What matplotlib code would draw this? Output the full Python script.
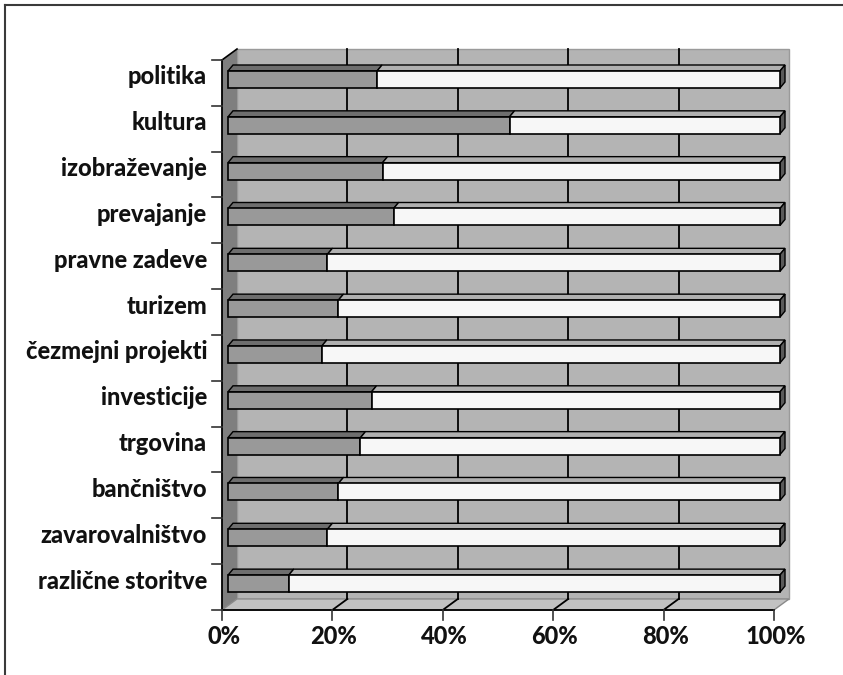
import matplotlib
matplotlib.use("Agg")
import matplotlib.pyplot as plt
from matplotlib.patches import Polygon
from matplotlib.lines import Line2D

# Data: share of each field (dark segment) and the remainder (light segment), in %
categories = ['politika', 'kultura', 'izobraževanje', 'prevajanje', 'pravne zadeve',
              'turizem', 'čezmejni projekti', 'investicije', 'trgovina', 'bančništvo',
              'zavarovalništvo', 'različne storitve']
share = [27, 51, 28, 30, 18, 20, 17, 26, 24, 20, 18, 11]
remainder = [73, 49, 72, 70, 82, 80, 83, 74, 76, 80, 82, 89]
tick_values = [0, 20, 40, 60, 80, 100]
tick_labels = ['0%', '20%', '40%', '60%', '80%', '100%']

W, H, DPI = 843, 675, 100
fig = plt.figure(figsize=(W / DPI, H / DPI), dpi=DPI)
ax = fig.add_axes([0, 0, 1, 1])
ax.set_axis_off()

# Layout of the front plane in pixels, used to set the axis scales
X0, PX_PCT = 222.0, 5.52       # x position of 0 %, pixels per %
Y0, PX_CAT = 60.0, 45.83       # y position of the top, pixels per category
ax.set_xlim(-X0 / PX_PCT, (W - X0) / PX_PCT)
ax.set_ylim((H - Y0) / PX_CAT, -Y0 / PX_CAT)

n = len(categories)
# oblique depth vector of the box (in data units)
DX, DY = 15 / PX_PCT, -11 / PX_CAT
# bar geometry
BX = 6 / PX_PCT                 # bar front face shift to the right
TX, TY = 5 / PX_PCT, -6 / PX_CAT  # bar top-face depth
B_TOP, B_BOT = 0.24, 0.61

font = ['Lato', 'DejaVu Sans']

def poly(pts, fc, ec='black', lw=1.0, z=1):
    ax.add_patch(Polygon(pts, closed=True, facecolor=fc, edgecolor=ec, linewidth=lw, zorder=z))

# back wall
poly([(DX, DY), (100 + DX, DY), (100 + DX, n + DY), (DX, n + DY)], '#b4b4b4', ec='#9a9a9a', lw=1.0, z=1)
# left side wall
poly([(0, 0), (DX, DY), (DX, n + DY), (0, n)], '#7f7f7f', ec='none', z=2)
ax.add_line(Line2D([0, DX], [0, DY], color='black', lw=1.2, zorder=3))
# floor
poly([(0, n), (100, n), (100 + DX, n + DY), (DX, n + DY)], '#c2c2c2', ec='#8a8a8a', lw=1.0, z=2)

# gridlines on wall and floor
for p in tick_values[1:-1]:
    ax.add_line(Line2D([p + DX, p + DX], [DY, n + DY], color='black', lw=1.3, zorder=3))
    ax.add_line(Line2D([p + DX, p], [n + DY, n], color='black', lw=1.3, zorder=3))

# 3D stacked bars
for i in range(n):
    y1, y2 = i + B_TOP, i + B_BOT
    segs = [(0, share[i], '#999999', '#6e6e6e'),
            (share[i], share[i] + remainder[i], '#f7f7f7', '#b0b0b0')]
    for (a, b, front, top) in segs:
        xa, xb = a + BX, b + BX
        poly([(xa, y1), (xb, y1), (xb + TX, y1 + TY), (xa + TX, y1 + TY)], top, lw=1.0, z=5)
        poly([(xa, y1), (xb, y1), (xb, y2), (xa, y2)], front, lw=1.2, z=6)
    xe = share[i] + remainder[i] + BX
    poly([(xe, y1), (xe + TX, y1 + TY), (xe + TX, y2 + TY), (xe, y2)], '#5a5a5a', lw=1.0, z=5)

# front axes lines and ticks
ax.add_line(Line2D([0, 0], [0, n], color='black', lw=1.3, zorder=8))
ax.add_line(Line2D([0, 100], [n, n], color='black', lw=1.3, zorder=8))
tick_dx = 10 / PX_PCT
for k in range(n + 1):
    ax.add_line(Line2D([-tick_dx, 0], [k, k], color='#333333', lw=1.2, zorder=8))
tick_dy = 10 / PX_CAT
for p, lab in zip(tick_values, tick_labels):
    ax.add_line(Line2D([p, p], [n, n + tick_dy], color='#333333', lw=1.2, zorder=8))
    ax.text(p + 0.3, n + 0.57, lab, ha='center', va='center', fontsize=17,
            fontweight='black', family=font, color='#111111')

# category labels
for i, c in enumerate(categories):
    ax.text(-15 / PX_PCT, i + 0.37, c, ha='right', va='center', fontsize=17,
            fontweight='black', family=font, color='#111111')

# frame line along the top and left edges
fig.add_artist(Line2D([5 / W, 1.0], [1 - 5 / H, 1 - 5 / H], transform=fig.transFigure,
                      color='#3a3a3a', lw=1.5))
fig.add_artist(Line2D([5 / W, 5 / W], [0, 1 - 5 / H], transform=fig.transFigure,
                      color='#3a3a3a', lw=1.5))

fig.savefig('out.png', dpi=DPI)
